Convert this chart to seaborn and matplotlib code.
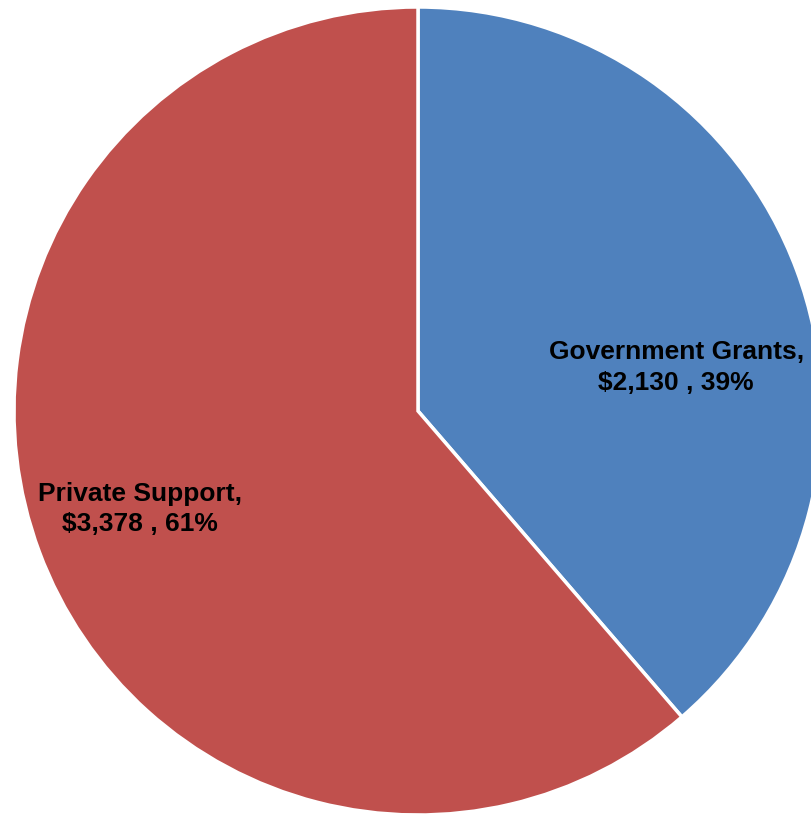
import matplotlib
matplotlib.use("Agg")
import matplotlib.pyplot as plt
import seaborn as sns

sns.set_style("white")
plt.rcParams['font.family'] = ['Liberation Sans', 'DejaVu Sans']

categories = ["Government Grants", "Private Support"]
amounts = [2130, 3378]
colors = ["#4F81BD", "#C0504D"]

fig = plt.figure(figsize=(8.11, 8.15), dpi=100)
ax = fig.add_axes([0, 0, 1, 1])
ax.pie(amounts, colors=colors, startangle=90, counterclock=False,
       radius=1.0, center=(0, 0),
       wedgeprops=dict(edgecolor="white", linewidth=2.5))

total = sum(amounts)
label_pos = [(0.639, 0.107), (-0.688, -0.243)]
for name, val, (x, y) in zip(categories, amounts, label_pos):
    pct = round(100 * val / total)
    ax.text(x, y, f"{name},\n${val:,} , {pct}%", ha="center", va="center",
            fontsize=19, fontweight="bold", color="black", linespacing=1.35)

ax.set_xlim(-418 / 404, (811 - 418) / 404)
ax.set_ylim(-(815 - 411) / 404, 411 / 404)
ax.set_aspect("equal")
ax.axis("off")
fig.savefig("out.png", dpi=100)
